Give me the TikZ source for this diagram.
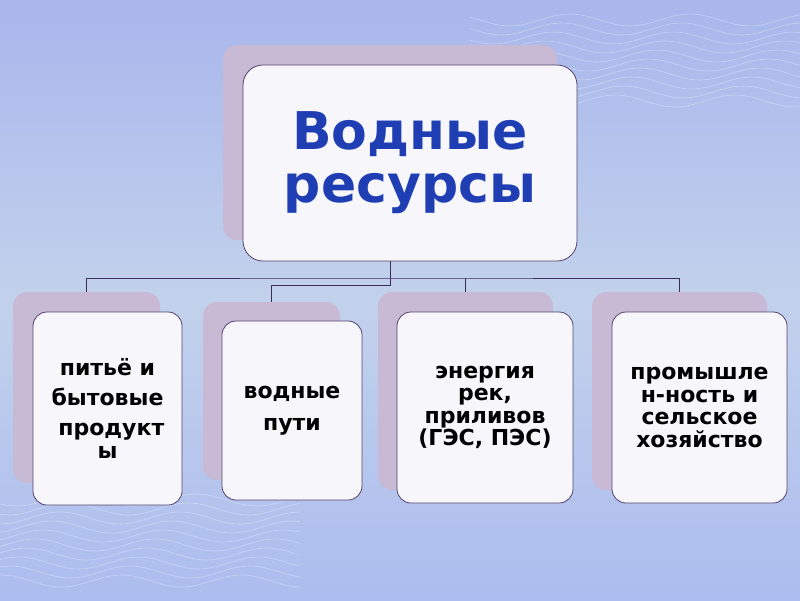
\documentclass[tikz,border=0pt]{standalone}
\usepackage{fontspec}
\setmainfont{DejaVu Sans}
\definecolor{bgtop}{RGB}{168,182,236}
\definecolor{bgmid}{RGB}{194,210,236}
\definecolor{bgbot}{RGB}{172,188,238}
\definecolor{shadecol}{RGB}{200,186,212}
\definecolor{frontcol}{RGB}{246,246,251}
\definecolor{edgecol}{RGB}{85,65,110}
\definecolor{conncol}{RGB}{60,45,95}
\definecolor{titlecol}{RGB}{32,62,180}
\begin{document}
\begin{tikzpicture}[x=1pt,y=-1pt,
  shadowbox/.style={fill=shadecol, rounded corners=14pt, inner sep=0pt},
  frontbox/.style={fill=frontcol, draw=edgecol, line width=0.8pt, rounded corners=14pt, inner sep=0pt, align=center},
  conn/.style={draw=conncol, line width=0.9pt},
  small/.style={font=\fontsize{22}{22.5}\selectfont\bfseries, text=black},
  wave/.style={draw=white, line width=0.6pt, opacity=0.35}]
\useasboundingbox (0,0) rectangle (800,600);
\shade[top color=bgtop, bottom color=bgbot, middle color=bgmid] (0,0) rectangle (800,600);
% soft background waves
\foreach \i in {0,...,9}{
  \draw[wave] plot[smooth, domain=470:800, samples=30] (\x, {20+\i*9+6*sin(3*\x+\i*25)});
  \draw[wave] plot[smooth, domain=0:300, samples=30] (\x, {500+\i*9+6*sin(3*\x+40+\i*25)});
}
% shadows
\node[shadowbox, minimum width=334pt, minimum height=195pt] (topS) at (390,142.5) {};
\node[shadowbox, minimum width=147pt, minimum height=191pt] (s1) at (86.5,387.5) {};
\node[shadowbox, minimum width=137pt, minimum height=178pt] (s2) at (271.5,391) {};
\node[shadowbox, minimum width=175pt, minimum height=198pt] (s3) at (465.5,391) {};
\node[shadowbox, minimum width=175pt, minimum height=198pt] (s4) at (679.5,391) {};
% connectors
\coordinate (j) at (390,278);
\coordinate (k) at (390,285);
\draw[conn] (topS.south) -- (k) -| (s2.north);
\draw[conn] (s1.north) |- (j) -| (s4.north);
\draw[conn] (j -| s3.north) -- (s3.north);
% front boxes
\node[frontbox, minimum width=334pt, minimum height=196pt, rounded corners=20pt,
      font=\fontsize{52}{53}\selectfont\bfseries, text=titlecol] (top) at (410,163) {Водные\\ресурсы};
\node[frontbox, small, minimum width=149pt, minimum height=193pt] (b1) at (107.5,408.5)
  {питьё и\\[7.5pt]бытовые\\[7.5pt]\ продукт\\ы};
\node[frontbox, small, minimum width=140pt, minimum height=179pt] (b2) at (292,410.5)
  {водные\\[9.5pt]пути};
\node[frontbox, small, minimum width=176pt, minimum height=191pt] (b3) at (485,407.5)
  {энергия\\рек,\\приливов\\(ГЭС, ПЭС)};
\node[frontbox, small, minimum width=175pt, minimum height=191pt] (b4) at (699.5,407.5)
  {промышле\\н-ность и\\сельское\\хозяйство};
\end{tikzpicture}
\end{document}
